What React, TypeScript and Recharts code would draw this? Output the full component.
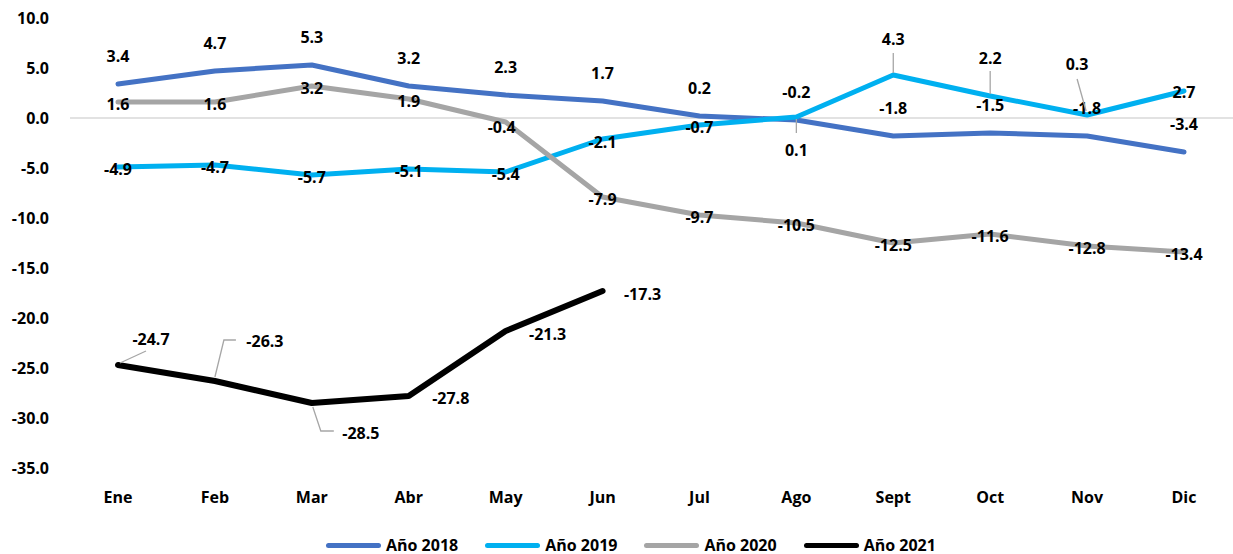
import React from 'react';
import { LineChart, Line, XAxis, YAxis, ReferenceLine, LabelList } from 'recharts';

const months = ['Ene', 'Feb', 'Mar', 'Abr', 'May', 'Jun', 'Jul', 'Ago', 'Sept', 'Oct', 'Nov', 'Dic'];
const anio2018 = [3.4, 4.7, 5.3, 3.2, 2.3, 1.7, 0.2, -0.2, -1.8, -1.5, -1.8, -3.4];
const anio2019 = [-4.9, -4.7, -5.7, -5.1, -5.4, -2.1, -0.7, 0.1, 4.3, 2.2, 0.3, 2.7];
const anio2020 = [1.6, 1.6, 3.2, 1.9, -0.4, -7.9, -9.7, -10.5, -12.5, -11.6, -12.8, -13.4];
const anio2021 = [-24.7, -26.3, -28.5, -27.8, -21.3, -17.3, null, null, null, null, null, null];
const yTicks = [-35, -30, -25, -20, -15, -10, -5, 0, 5, 10];

const data = months.map((m, i) => ({
  month: m,
  a2018: anio2018[i],
  a2019: anio2019[i],
  a2020: anio2020[i],
  a2021: anio2021[i],
}));

const FONT = '"Open Sans", "Liberation Sans", Arial, sans-serif';
const LEADER = '#a6a6a6';

type Offset = { dx: number; dy: number; leader?: number[][] };

// label placement per point (relative to the point), like excel's hand-dragged labels
const off2018: Offset[] = months.map(() => ({ dx: 0, dy: -28 }));
const off2019: Offset[] = [
  { dx: 0, dy: 2 },
  { dx: 0, dy: 2 },
  { dx: 0, dy: 2 },
  { dx: 0, dy: 2 },
  { dx: 0, dy: 2 },
  { dx: 0, dy: 3 },
  { dx: 0, dy: 2 },
  { dx: 0, dy: 33, leader: [[0, 2], [0, 16]] },
  { dx: 0, dy: -36, leader: [[0, -2], [0, -22]] },
  { dx: 0, dy: -38, leader: [[0, -2], [0, -25]] },
  { dx: -10, dy: -51, leader: [[-1, -4], [-10, -36]] },
  { dx: 0, dy: 1 },
];
const off2020: Offset[] = months.map((_, i) => (i === 4 ? { dx: -4, dy: 5 } : { dx: 0, dy: 2 }));
const off2021: Offset[] = [
  { dx: 33, dy: -26, leader: [[2, -2], [28, -14]] },
  { dx: 50, dy: -40, leader: [[0, -4], [9, -41], [21, -41]] },
  { dx: 49, dy: 30, leader: [[1, 4], [9, 28], [22, 28]] },
  { dx: 42, dy: 2 },
  { dx: 42, dy: 3 },
  { dx: 40, dy: 3 },
];

const series = [
  { key: 'a2018', name: 'Año 2018', color: '#4472C4', width: 5, offsets: off2018 },
  { key: 'a2019', name: 'Año 2019', color: '#00B0F0', width: 5, offsets: off2019 },
  { key: 'a2020', name: 'Año 2020', color: '#A5A5A5', width: 5, offsets: off2020 },
  { key: 'a2021', name: 'Año 2021', color: '#000000', width: 6, offsets: off2021 },
];

function makeLabel(offsets: Offset[]) {
  return (props: any) => {
    const { value, index } = props;
    const x = props.x ?? props.viewBox?.x;
    const y = props.y ?? props.viewBox?.y;
    if (value == null || x == null || y == null) return null;
    const o = offsets[index] ?? { dx: 0, dy: 0 };
    return (
      <g>
        {o.leader && (
          <polyline
            points={o.leader.map(([a, b]) => `${x + a},${y + b}`).join(' ')}
            fill="none"
            stroke={LEADER}
            strokeWidth={1.3}
          />
        )}
        <text
          x={x + o.dx}
          y={y + o.dy}
          textAnchor="middle"
          dominantBaseline="central"
          fontFamily={FONT}
          fontWeight={700}
          fontSize={16}
          fill="#000"
        >
          {Number(value).toFixed(1)}
        </text>
      </g>
    );
  };
}

export default function App() {
  return (
    <div style={{ position: 'relative', width: 1233, height: 554, background: '#fff', fontFamily: FONT }}>
      <style>{'body{margin:0}'}</style>
      <LineChart width={1233} height={554} data={data} margin={{ top: 18, right: 0, bottom: 46, left: 10 }}>
        <XAxis
          dataKey="month"
          scale="point"
          padding={{ left: 48, right: 49 }}
          axisLine={false}
          tickLine={false}
          height={40}
          tickMargin={18}
          tick={{ fontFamily: FONT, fontWeight: 700, fontSize: 16, fill: '#000' }}
        />
        <YAxis
          domain={[-35, 10]}
          ticks={yTicks}
          width={60}
          axisLine={false}
          tickLine={false}
          tickMargin={15}
          tickFormatter={(v: number) => v.toFixed(1)}
          tick={{ fontFamily: FONT, fontWeight: 700, fontSize: 16, fill: '#000' }}
        />
        <ReferenceLine y={0} stroke="#d9d9d9" strokeWidth={1.5} />
        {series.map((s) => (
          <Line
            key={s.key}
            dataKey={s.key}
            name={s.name}
            stroke={s.color}
            strokeWidth={s.width}
            strokeLinecap="round"
            strokeLinejoin="round"
            dot={false}
            activeDot={false}
            connectNulls={false}
            isAnimationActive={false}
          >
            <LabelList dataKey={s.key} content={makeLabel(s.offsets)} />
          </Line>
        ))}
      </LineChart>
      <div style={{ position: 'absolute', top: 534, left: 326, display: 'flex', alignItems: 'center' }}>
        {series.map((s) => (
          <div key={s.key} style={{ display: 'flex', alignItems: 'center', marginRight: 27 }}>
            <div style={{ width: 55, height: 5, borderRadius: 3, background: s.color, marginRight: 5 }} />
            <span style={{ fontWeight: 700, fontSize: 16, color: '#000', lineHeight: '22px' }}>{s.name}</span>
          </div>
        ))}
      </div>
    </div>
  );
}
